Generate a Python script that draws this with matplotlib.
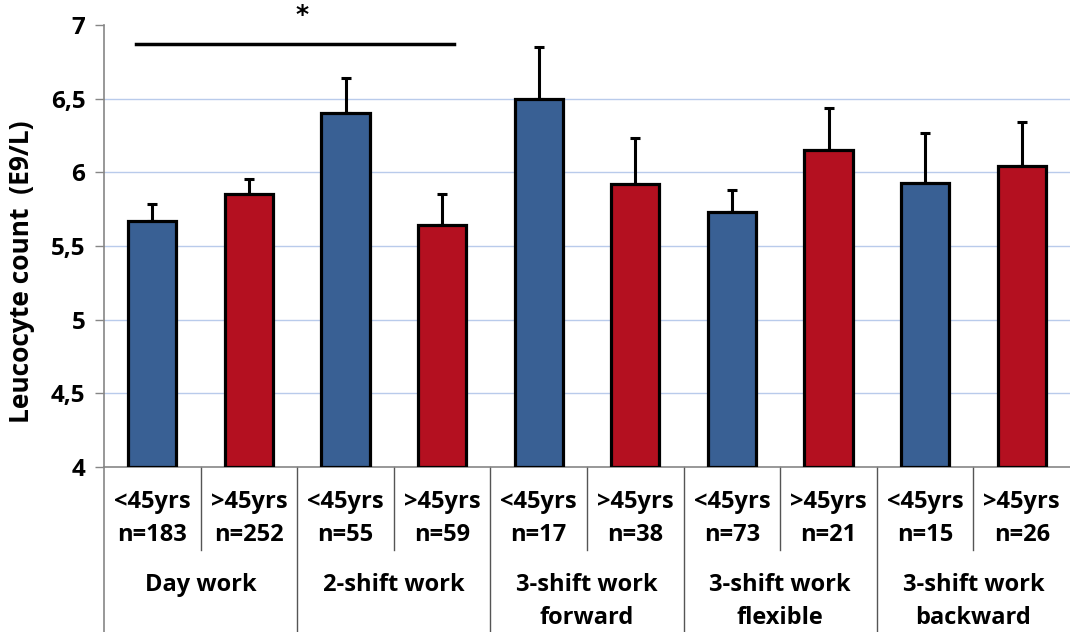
import numpy as np
import matplotlib
matplotlib.use("Agg")
import matplotlib.pyplot as plt
import matplotlib.transforms as mtransforms

# --- Data ---
age_labels = ["<45yrs", ">45yrs", "<45yrs", ">45yrs", "<45yrs", ">45yrs",
              "<45yrs", ">45yrs", "<45yrs", ">45yrs"]
n_labels = ["n=183", "n=252", "n=55", "n=59", "n=17", "n=38",
            "n=73", "n=21", "n=15", "n=26"]
groups = ["Day work", "2-shift work", "3-shift work\nforward",
          "3-shift work\nflexible", "3-shift work\nbackward"]
means = [5.67, 5.85, 6.40, 5.645, 6.50, 5.92, 5.73, 6.15, 5.93, 6.04]
err_up = [0.115, 0.105, 0.24, 0.21, 0.35, 0.31, 0.15, 0.29, 0.34, 0.30]

BLUE = "#396094"
RED = "#B41020"
GRID = "#B9CBEB"
AXIS_GRAY = "#868686"
LABEL_SIZE = 17

plt.rcParams["font.family"] = "Open Sans"
plt.rcParams["font.weight"] = "bold"

fig = plt.figure(figsize=(10.7, 6.32), dpi=100)
ax = fig.add_axes([0.0972, 0.261, 0.9028, 0.6994])

x = np.arange(len(means))
colors = [BLUE if i % 2 == 0 else RED for i in x]
ax.bar(x, np.array(means) - 4, bottom=4, width=0.5, color=colors,
       edgecolor="black", linewidth=2.3, zorder=3)
ax.errorbar(x, means, yerr=[np.zeros(len(means)), err_up], fmt="none",
            ecolor="black", elinewidth=2.2, capsize=3.8, capthick=2.2, zorder=2)

ax.set_xlim(-0.5, 9.5)
ax.set_ylim(4, 7)
ax.set_yticks(np.arange(4, 7.01, 0.5))
ax.set_yticklabels(["4", "4,5", "5", "5,5", "6", "6,5", "7"])
ax.tick_params(axis="y", direction="out", length=6.5, width=1, color=AXIS_GRAY,
               pad=7, labelsize=17.5)
ax.set_xticks([])
for y in np.arange(4.5, 6.51, 0.5):
    ax.axhline(y, color=GRID, linewidth=1, zorder=1)

for side in ["top", "right"]:
    ax.spines[side].set_visible(False)
for side in ["left", "bottom"]:
    ax.spines[side].set_color(AXIS_GRAY)
    ax.spines[side].set_linewidth(1.2)

ax.set_ylabel("Leucocyte count  (E9/L)", fontsize=19, fontweight="bold")
ax.yaxis.set_label_coords(-0.071, 0.441)

# category labels under the axis
trans = mtransforms.blended_transform_factory(ax.transData, ax.transAxes)
for i in x:
    ax.text(i, -0.079, age_labels[i], transform=trans, ha="center", va="center",
            fontsize=LABEL_SIZE, fontweight="bold")
    ax.text(i, -0.154, n_labels[i], transform=trans, ha="center", va="center",
            fontsize=LABEL_SIZE, fontweight="bold")
for g, name in enumerate(groups):
    lines = name.split("\n")
    for k, line in enumerate(lines):
        ax.text(2 * g + 0.5, -0.267 - 0.075 * k, line, transform=trans,
                ha="center", va="center", fontsize=LABEL_SIZE, fontweight="bold")

# divider lines between categories
for i in range(10):
    xb = i - 0.5
    bottom = -0.38 if i % 2 == 0 else -0.188
    ax.plot([xb, xb], [0, bottom], transform=trans, color=AXIS_GRAY if i == 0 else "#555555",
            linewidth=1.2 if i == 0 else 1, clip_on=False)

# significance bar
ax.plot([-0.169, 3.12], [6.87, 6.87], color="black", linewidth=2.5, clip_on=False)
ax.text(1.555, 7.07, "*", ha="center", va="center", fontsize=18, fontweight="bold",
        family="DejaVu Sans")

fig.savefig("out.png", dpi=100)
